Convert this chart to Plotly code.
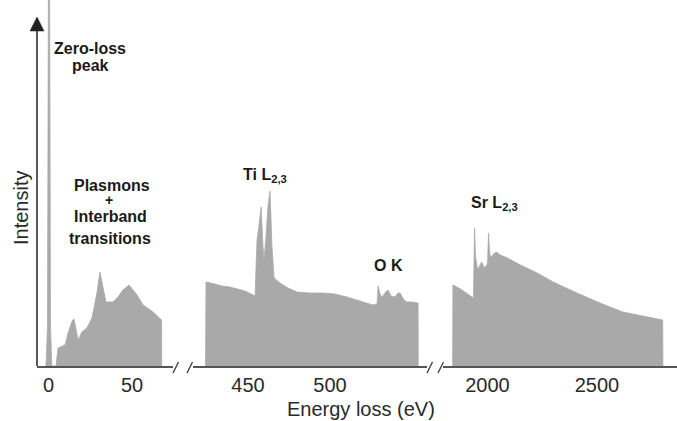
import plotly.graph_objects as go

# ---------------- data ----------------
# Low-loss region (eV, intensity a.u.)
low_ev = [-1.5, -0.6, 0.3, 1.2, 2.0, 2.7, 4.5, 5.7, 9.9, 11.7, 14.1, 15.3, 17.7, 20.0, 23.0,
          26.0, 29.0, 30.8, 32.5, 34.4, 38.6, 41.6, 44.6, 48.2, 53.0, 56.6, 62.6, 67.7, 67.8]
low_int = [0, 40, 600, 40, 0, 0, 0, 18, 21, 33, 45, 47, 26, 34, 38,
           48, 73, 94, 78, 64, 64, 69, 76, 81, 71, 61, 54, 46, 0]

# Ti L2,3 and O K region
mid_ev = [424.1, 424.4, 429.9, 434.0, 439.0, 443.5, 448.2, 454.3, 455.5, 456.7, 458.0, 459.1, 459.8,
          461.0, 462.2, 463.4, 464.6, 465.9, 469.5, 474.4, 480.0, 487.8, 495.7, 503.0, 510.4,
          518.3, 526.2, 528.7, 529.3, 530.5, 531.7, 533.5, 535.4, 537.2, 539.6, 541.5, 542.7,
          545.1, 547.0, 550.0, 553.7, 553.8]
mid_int = [0, 84, 82, 80, 79, 77, 75, 70, 126, 140, 159, 120, 106,
           130, 160, 175, 120, 88, 83, 78, 74, 73, 73, 72, 69,
           65, 61, 62, 80, 72, 69, 73, 76, 70, 69, 73, 73,
           66, 64, 64, 63, 0]

# Sr L2,3 region
high_ev = [1841, 1842, 1877, 1932, 1936, 1941, 1945, 1955, 1973, 1986, 2000, 2005, 2009, 2014,
           2027, 2041, 2059, 2091, 2123, 2150, 2218, 2300, 2409, 2514, 2618, 2727, 2800, 2801]
high_int = [0, 81, 77, 68, 68, 138, 110, 96, 104, 98, 102, 133, 115, 108,
            112, 114, 111, 108, 104, 101, 94, 84, 73, 63, 54, 49, 46, 0]

tick1 = [0, 50]
tick2 = [450, 500]
tick3 = [2000, 2500]

# ---------------- geometry helpers ----------------
W, H = 677, 421
BASE = 366  # pixel row of the baseline


def px(x):
    return x / W


def py(y):
    return (BASE - y) / BASE


def rng(p0, v0, p1, v1, a, b):
    s = (v1 - v0) / (p1 - p0)
    return [v0 + (a - p0) * s, v0 + (b - p0) * s]


FILL = "#a9a9a9"
AXC = "#555555"
FONT = "Liberation Sans, Arial, sans-serif"

fig = go.Figure()
for xs, ys, xa in [(low_ev, low_int, "x"), (mid_ev, mid_int, "x2"), (high_ev, high_int, "x3")]:
    fig.add_trace(go.Scatter(x=xs, y=ys, xaxis=xa, yaxis="y", mode="lines",
                             fill="tozeroy", fillcolor=FILL,
                             line=dict(color=FILL, width=0.8), hoverinfo="skip",
                             showlegend=False))

axis_common = dict(showline=True, linecolor=AXC, linewidth=1.5, ticks="",
                   showgrid=False, zeroline=False, anchor="y",
                   tickfont=dict(family=FONT, size=20, color="#2a2a2a"))

fig.update_layout(
    width=W, height=H,
    margin=dict(l=0, r=0, t=0, b=H - BASE),
    paper_bgcolor="white", plot_bgcolor="white",
    showlegend=False,
    xaxis=dict(domain=[px(37), px(173)], range=rng(48.5, 0, 132, 50, 37, 173),
               tickvals=tick1, **axis_common),
    xaxis2=dict(domain=[px(193), px(427)], range=rng(248, 450, 330, 500, 193, 427),
                tickvals=tick2, **axis_common),
    xaxis3=dict(domain=[px(443), 1.0], range=rng(487.5, 2000, 597, 2500, 443, 677),
                tickvals=tick3, **axis_common),
    yaxis=dict(range=[0, BASE], visible=False, domain=[0, 1], anchor="x"),
)

shapes = []
# vertical intensity axis with arrow
shapes.append(dict(type="line", xref="paper", yref="paper", x0=px(37), x1=px(37),
                   y0=py(366), y1=py(29), line=dict(color="#222222", width=1.5)))
shapes.append(dict(type="path", xref="paper", yref="paper",
                   path=f"M {px(30)},{py(31)} L {px(44)},{py(31)} L {px(37)},{py(17)} Z",
                   fillcolor="#222222", line=dict(color="#222222", width=0.5)))
# axis break marks
for x0 in [173, 187, 427, 438]:
    shapes.append(dict(type="line", xref="paper", yref="paper",
                       x0=px(x0), y0=py(373), x1=px(x0 + 5.5), y1=py(362),
                       line=dict(color="#333333", width=1.3)))
fig.update_layout(shapes=shapes)

ann = []


def label(text, x, y, size=16, bold=True, color="#1a1a1a", angle=0):
    ann.append(dict(text=f"<b>{text}</b>" if bold else text, x=px(x), y=py(y),
                    xref="paper", yref="paper", showarrow=False,
                    xanchor="center", yanchor="middle", textangle=angle,
                    font=dict(family=FONT, size=size, color=color)))


label("Zero-loss", 90, 48)
label("peak", 90, 66)
label("Plasmons", 112, 185)
label("+", 109, 200, size=14)
label("Interband", 110, 216)
label("transitions", 110, 238)
label("Ti L<sub>2,3</sub>", 265, 175)
label("O K", 388, 265)
label("Sr L<sub>2,3</sub>", 494, 204)
label("Intensity", 21, 208, size=20, bold=False, color="#2a2a2a", angle=-90)
label("Energy loss (eV)", 361, 409, size=20, bold=False, color="#2a2a2a")
fig.update_layout(annotations=ann)

fig.write_html("out.html", config={"displayModeBar": False},
               post_script="document.body.style.margin='0px';document.body.style.overflow='hidden';")
